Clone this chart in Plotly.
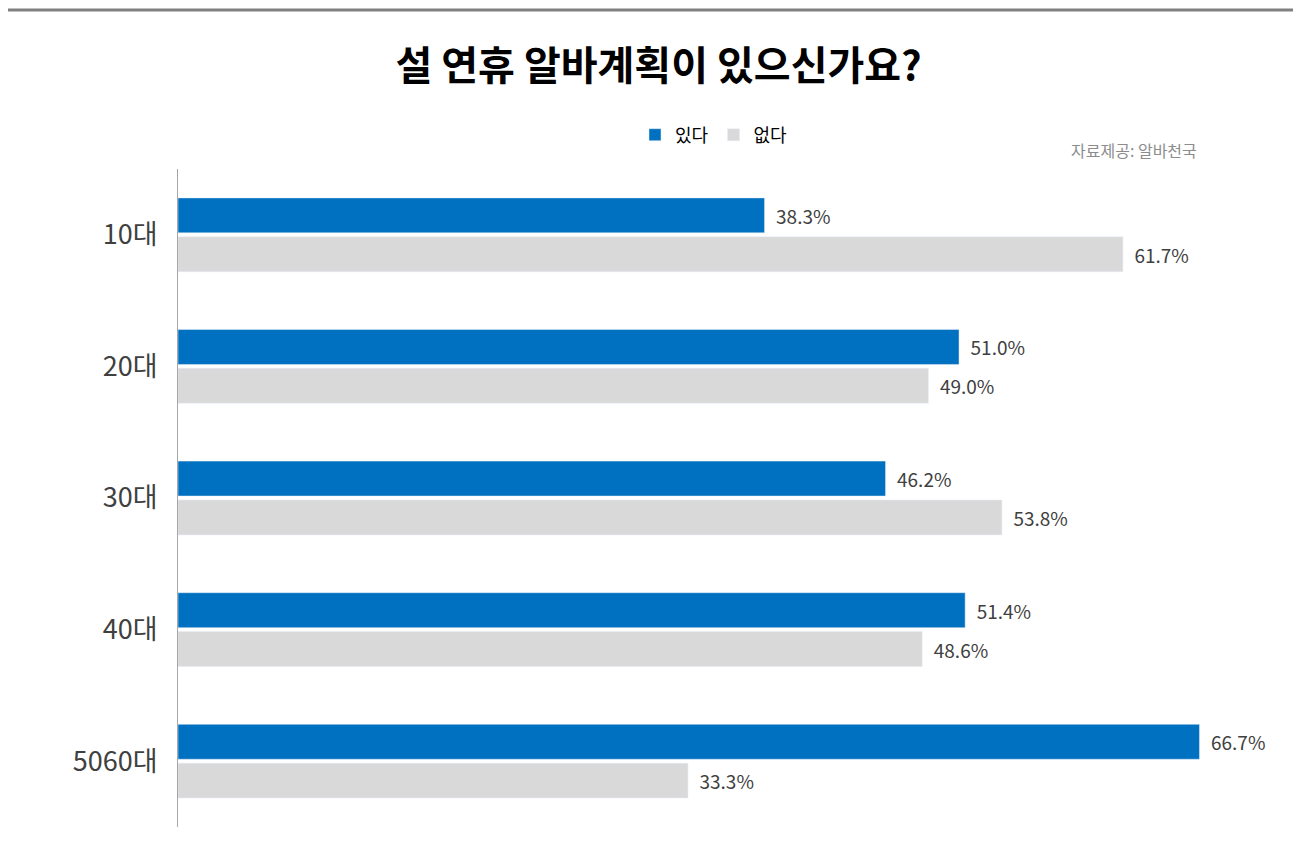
import plotly.graph_objects as go

categories = ["10대", "20대", "30대", "40대", "5060대"]
yes_vals = [38.3, 51.0, 46.2, 51.4, 66.7]
no_vals = [61.7, 49.0, 53.8, 48.6, 33.3]

lab = dict(size=19, color="#404040")
fig = go.Figure()
fig.add_trace(go.Bar(y=categories, x=yes_vals, orientation="h", name="있다",
                     marker_color="#0070c0", cliponaxis=False,
                     text=[f"  {v:.1f}%" for v in yes_vals], textposition="outside",
                     textfont=lab))
fig.add_trace(go.Bar(y=categories, x=no_vals, orientation="h", name="없다",
                     marker_color="#d9d9d9", cliponaxis=False,
                     text=[f"  {v:.1f}%" for v in no_vals], textposition="outside",
                     textfont=lab))

B = 37
H = 856 - 161 - B
def py(pix):
    return (856 - B - pix) / H

fig.update_layout(
    width=1301, height=856, plot_bgcolor="white", paper_bgcolor="white",
    font=dict(family="Noto Sans CJK KR"),
    barmode="group", bargap=0.41, bargroupgap=0.1,
    margin=dict(l=170, r=59, t=161, b=B, autoexpand=False),
    title=dict(text="<b>설 연휴 알바계획이 있으신가요?</b>", x=0.5, xanchor="center",
               y=1 - 58/856, yanchor="middle", font=dict(size=40, color="black")),
    legend=dict(orientation="h", x=0.5, xanchor="center", y=py(127), yanchor="middle",
                font=dict(size=18, color="black"), itemwidth=30, tracegroupgap=0),
    showlegend=True,
    xaxis=dict(range=[0, 70], visible=False),
    yaxis=dict(autorange="reversed", showline=True, linecolor="#a6a6a6", linewidth=1,
               automargin=False,
               tickfont=dict(size=27, color="#404040"), ticks="", ticklabelstandoff=14),
    shapes=[
        dict(type="line", xref="paper", yref="paper", x0=-0.2, x1=1.1, y0=py(2), y1=py(2),
             line=dict(color="#808080", width=3)),
        dict(type="line", xref="paper", yref="paper", x0=-0.2, x1=1.1, y0=py(853), y1=py(853),
             line=dict(color="#808080", width=3)),
    ],
    annotations=[dict(text="자료제공: 알바천국", xref="paper", yref="paper",
                      x=(1191-170)/(1242-170), xanchor="right", y=py(142), yanchor="middle",
                      showarrow=False, font=dict(size=16, color="#8c8c8c"))],
)
fig.write_html("out.html")
